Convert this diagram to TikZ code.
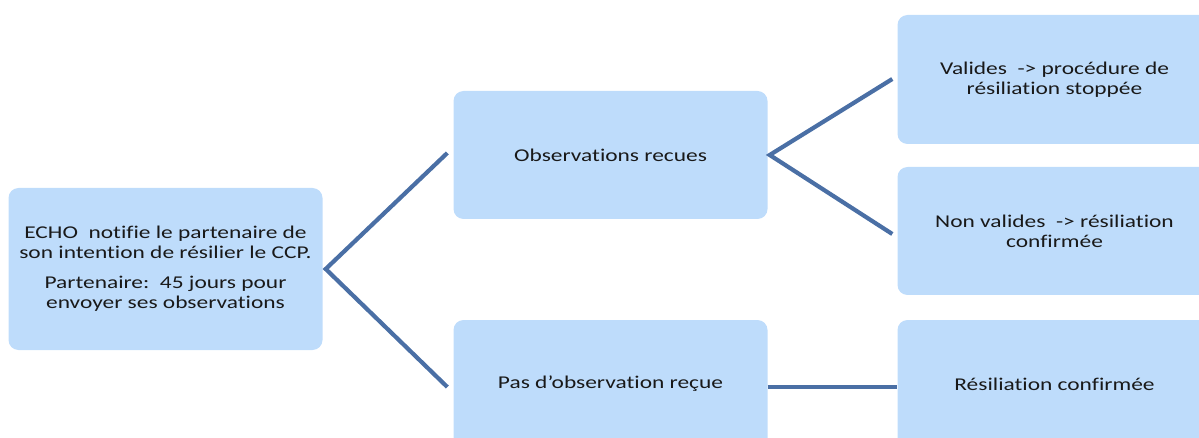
\documentclass[tikz,border=0pt]{standalone}
\usepackage{fontspec}
\setmainfont{Carlito}[FakeStretch=1.3, Ligatures={NoCommon}]
\definecolor{boxfill}{HTML}{BEDCFB}
\definecolor{linkcol}{HTML}{4A6FA5}
\begin{document}
\begin{tikzpicture}[x=1pt,y=-1pt,
  box/.style={fill=boxfill, rounded corners=10pt, minimum width=314pt, minimum height=128pt,
    align=center, inner sep=0pt, font=\fontsize{18}{20}\selectfont, text=black!90},
  link/.style={draw=linkcol, line width=4.2pt, line join=miter}]
\useasboundingbox (0,0) rectangle (1199,438);
\begin{scope}
\clip (0,0) rectangle (1199,438);
\node[box, minimum height=162pt] (echo) at (165.5,269) {ECHO\ \ notifie le partenaire de\\son intention de résilier le CCP.\\[10pt]Partenaire:\ \ 45 jours pour\\envoyer ses observations};
\node[box] (obs) at (610.5,155) {Observations recues};
\node[box] (pas) at (610.5,384) {Pas d'observation reçue};
\node[box, minimum height=129pt] (val) at (1054.5,79.5) {Valides\ \ -> procédure de\\résiliation stoppée};
\node[box] (non) at (1054.5,231) {Non valides\ \ -> résiliation\\confirmée};
\node[box] (res) at (1054.5,384) {Résiliation confirmée};
\end{scope}
\coordinate (v1) at ([xshift=3pt]echo.east);
\coordinate (v2) at ([xshift=2pt]obs.east);
\draw[link] ([xshift=-6pt,yshift=2pt]obs.west) -- (v1) -- ([xshift=-6pt,yshift=-3pt]pas.west);
\draw[link] ([xshift=-5pt,yshift=0.5pt]val.west) -- (v2) -- ([xshift=-5pt,yshift=-3pt]non.west);
\draw[link] ([yshift=-3pt]pas.east) -- ([yshift=-3pt]res.west);
\end{tikzpicture}
\end{document}
